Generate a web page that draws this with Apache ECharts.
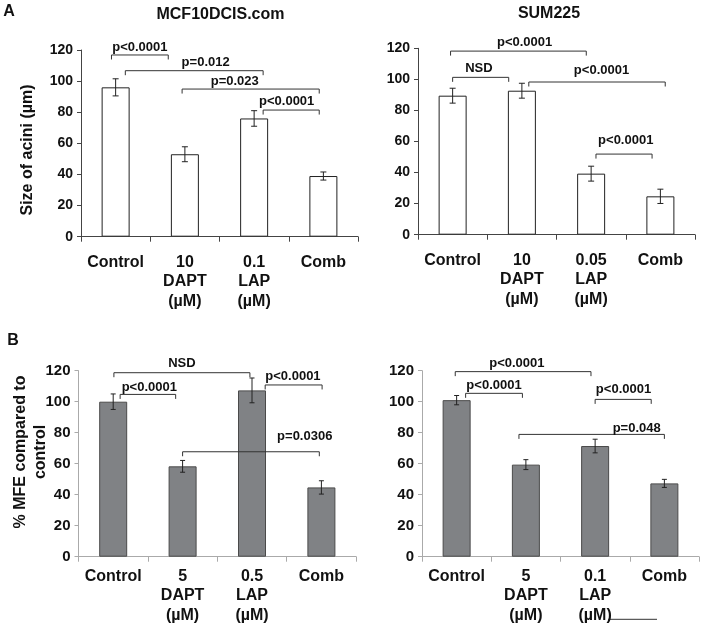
<!DOCTYPE html>
<html><head><meta charset="utf-8">
<script src="https://cdn.jsdelivr.net/npm/echarts@6/dist/echarts.min.js"></script>
<style>html,body{margin:0;padding:0;background:#fff}#c{width:703px;height:629px}</style>
</head><body><div id="c"></div>
<script>
// ---------- data ----------
const catsA1 = ['Control', '10\nDAPT\n(µM)', '0.1\nLAP\n(µM)', 'Comb'];
const catsA2 = ['Control', '10\nDAPT\n(µM)', '0.05\nLAP\n(µM)', 'Comb'];
const catsB1 = ['Control', '5\nDAPT\n(µM)', '0.5\nLAP\n(µM)', 'Comb'];
const catsB2 = ['Control', '5\nDAPT\n(µM)', '0.1\nLAP\n(µM)', 'Comb'];

const valsA1 = [96, 53, 76, 39];
const errA1  = [5.5, 4.8, 5, 2.6];
const valsA2 = [89.5, 92.7, 39.3, 24.7];
const errA2  = [4.8, 4.8, 4.8, 4.6];
const valsB1 = [100, 58.3, 107.3, 44.7];
const errB1  = [5, 3.8, 8, 4.3];
const valsB2 = [101, 59.4, 71.4, 47.3];
const errB2  = [3, 3.2, 4.4, 2.6];

const yTicks = [0, 20, 40, 60, 80, 100, 120];

// brackets: [fromIdx, toIdx, level, labelIdx, labelLevel]
const brA1 = [[-0.06, 0.76, 116.8, 0.35, 121.7], [0.14, 2.13, 106.7, 1.30, 111.9], [0.96, 2.94, 94.9, 1.72, 99.5], [2.13, 2.94, 81.4, 2.47, 86.7]];
const brA1Text = ['p<0.0001', 'p=0.012', 'p=0.023', 'p<0.0001'];
const brA2 = [[-0.03, 1.93, 118.2, 1.04, 123.8], [0.0, 0.81, 101.3, 0.38, 107.1], [1.10, 3.07, 98.3, 2.15, 105.6], [2.07, 2.88, 51.9, 2.50, 60.9]];
const brA2Text = ['p<0.0001', 'NSD', 'p<0.0001', 'p<0.0001'];
const brB1 = [[0.01, 1.97, 118.7, 0.99, 124.7], [0.10, 0.90, 104.7, 0.52, 109.2], [2.19, 3.01, 110.8, 2.59, 116.6], [1.00, 2.97, 67.7, 2.76, 77.4]];
const brB1Text = ['NSD', 'p<0.0001', 'p<0.0001', 'p=0.0306'];
const brB2 = [[-0.02, 1.94, 119.4, 0.87, 124.7], [0.13, 0.95, 105.4, 0.54, 110.8], [2.00, 2.81, 101.5, 2.41, 108.0], [0.90, 3.00, 78.9, 2.60, 82.8]];
const brB2Text = ['p<0.0001', 'p<0.0001', 'p<0.0001', 'p=0.048'];

// ---------- layout / style ----------
const FONT = '"Liberation Sans", Arial, sans-serif';
const panels = [
  {cats: catsA1, vals: valsA1, err: errA1, br: brA1, brText: brA1Text, grid: {left: 81, top: 50, width: 277, height: 186.7}, fill: '#ffffff', border: '#222', axis: '#444', yFont: 14, xMargin: 16, cap: 3},
  {cats: catsA2, vals: valsA2, err: errA2, br: brA2, brText: brA2Text, grid: {left: 418, top: 48.3, width: 277, height: 186.4}, fill: '#ffffff', border: '#222', axis: '#444', yFont: 14, xMargin: 16, cap: 3},
  {cats: catsB1, vals: valsB1, err: errB1, br: brB1, brText: brB1Text, grid: {left: 78.5, top: 370.7, width: 277.6, height: 186}, fill: '#808285', border: '#4a4a4a', axis: '#aaa', yFont: 15, xMargin: 10, cap: 2.5},
  {cats: catsB2, vals: valsB2, err: errB2, br: brB2, brText: brB2Text, grid: {left: 422, top: 370.7, width: 277, height: 186}, fill: '#808285', border: '#4a4a4a', axis: '#aaa', yFont: 15, xMargin: 10, cap: 2.5}
];

const grids = [], xAxes = [], yAxes = [], series = [];
panels.forEach((p, i) => {
  grids.push(Object.assign({outerBoundsMode: 'none'}, p.grid));
  xAxes.push({
    type: 'category', gridIndex: i, data: p.cats,
    axisLine: {onZero: false, lineStyle: {color: p.axis, width: 1}},
    axisTick: {show: true, length: 5, lineStyle: {color: p.axis}},
    axisLabel: {color: '#111', fontFamily: FONT, fontWeight: 'bold', fontSize: 16, lineHeight: 19.5, margin: p.xMargin, interval: 0},
    splitLine: {show: false}
  });
  xAxes.push({type: 'value', gridIndex: i, min: -0.5, max: 3.5, show: false});
  yAxes.push({
    type: 'value', gridIndex: i, min: yTicks[0], max: yTicks[yTicks.length - 1], interval: yTicks[1] - yTicks[0],
    axisLine: {show: true, onZero: false, lineStyle: {color: p.axis, width: 1}},
    axisTick: {show: true, length: 4, lineStyle: {color: p.axis}},
    axisLabel: {color: '#111', fontFamily: FONT, fontWeight: 'bold', fontSize: p.yFont, margin: 8},
    splitLine: {show: false}
  });
  series.push({
    type: 'bar', xAxisIndex: 2 * i, yAxisIndex: i, data: p.vals, barWidth: 28,
    itemStyle: {color: p.fill, borderColor: p.border, borderWidth: 1}, z: 2, silent: true
  });
  series.push({
    type: 'custom', xAxisIndex: 2 * i, yAxisIndex: i, z: 5, silent: true,
    data: p.vals.map((v, k) => [k, v, p.err[k]]),
    encode: {x: 0, y: 1},
    renderItem: (params, api) => {
      const x = api.value(0), v = api.value(1), e = api.value(2);
      const t = api.coord([x, v + e]), b = api.coord([x, v - e]);
      const st = {stroke: '#222', lineWidth: 1};
      const c = p.cap;
      return {type: 'group', children: [
        {type: 'line', shape: {x1: t[0], y1: t[1], x2: b[0], y2: b[1]}, style: st},
        {type: 'line', shape: {x1: t[0] - c, y1: t[1], x2: t[0] + c, y2: t[1]}, style: st},
        {type: 'line', shape: {x1: b[0] - c, y1: b[1], x2: b[0] + c, y2: b[1]}, style: st}
      ]};
    }
  });
  series.push({
    type: 'custom', xAxisIndex: 2 * i + 1, yAxisIndex: i, z: 6, silent: true,
    data: p.br,
    encode: {x: [0, 1, 3], y: [2, 4]},
    renderItem: (params, api) => {
      const x1 = api.value(0), x2 = api.value(1), lv = api.value(2), lx = api.value(3), ly = api.value(4);
      const a = api.coord([x1, lv]), b = api.coord([x2, lv]);
      const drop = 4.5;
      const l = api.coord([lx, ly]);
      return {type: 'group', children: [
        {type: 'polyline', shape: {points: [[a[0], a[1] + drop], a, b, [b[0], b[1] + drop]]}, style: {stroke: '#333', lineWidth: 1, fill: null}},
        {type: 'text', x: l[0], y: l[1], style: {text: p.brText[params.dataIndex], fill: '#111', font: 'bold 13px ' + FONT, align: 'center', verticalAlign: 'middle'}}
      ]};
    }
  });
});

const txt = (t, x, y, size, rot) => ({
  type: 'text', x: x, y: y, rotation: rot || 0,
  style: {text: t, fill: '#111', font: 'bold ' + size + 'px ' + FONT, align: 'center', verticalAlign: 'middle', lineHeight: 20}
});

const chart = echarts.init(document.getElementById('c'), null, {renderer: 'canvas'});
chart.setOption({
  animation: false,
  backgroundColor: '#fff',
  grid: grids, xAxis: xAxes, yAxis: yAxes, series: series,
  graphic: [
    txt('A', 9, 12, 16),
    txt('B', 13, 341, 16),
    txt('MCF10DCIS.com', 220.5, 15, 16),
    txt('SUM225', 549, 14, 16),
    txt('Size of acini (µm)', 28, 150, 16, Math.PI / 2),
    txt('% MFE compared to\ncontrol', 31, 452, 16, Math.PI / 2),
    {type: 'line', shape: {x1: 608, y1: 619.3, x2: 657, y2: 619.3}, style: {stroke: '#333', lineWidth: 1}}
  ]
});
</script>
</body></html>
